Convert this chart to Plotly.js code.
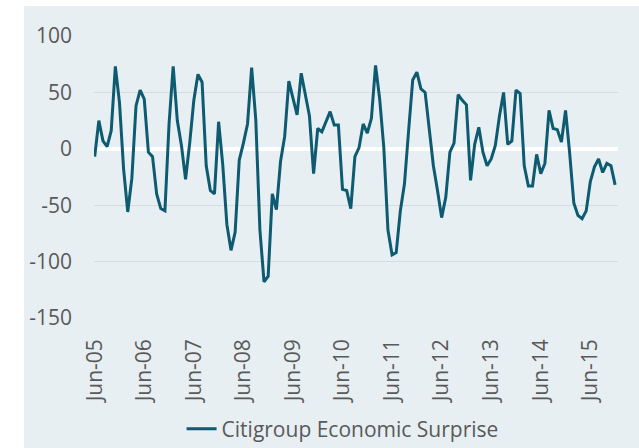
<!DOCTYPE html>
<html>
<head>
<meta charset="utf-8">
<script src="https://cdn.plot.ly/plotly-3.0.1.min.js"></script>
<style>
  html, body { margin: 0; padding: 0; background: #ffffff; width: 639px; height: 448px; overflow: hidden; }
  #chart { position: absolute; left: 24px; top: 6px; width: 615px; height: 442px; }
</style>
</head>
<body>
<div id="chart"></div>
<script>
// Monthly categories: Jun-05 .. Dec-15
const monthNames = ["Jan","Feb","Mar","Apr","May","Jun","Jul","Aug","Sep","Oct","Nov","Dec"];
const startYear = 2005, startMonth = 5, monthCount = 127;
const categories = [];
for (let k = 0; k < monthCount; k++) {
  const m = (startMonth + k) % 12;
  const y = startYear + Math.floor((startMonth + k) / 12);
  categories.push(monthNames[m] + "-" + String(y % 100).padStart(2, "0"));
}
const tickLabels = ["Jun-05","Jun-06","Jun-07","Jun-08","Jun-09","Jun-10","Jun-11","Jun-12","Jun-13","Jun-14","Jun-15"];
const yTickValues = [-150, -100, -50, 0, 50, 100];
const yTickLabels = ["-150", "-100", "-50", "0", "50", "100"];

const seriesName = "Citigroup Economic Surprise";
const surprise = [
  -7, 25, 7, 2, 16, 73, 41, -18, -56, -26, 38, 52,
  44, -3, -7, -40, -53, -55, 22, 73, 25, 3, -27, 5,
  43, 66, 59, -15, -37, -40, 24, -14, -67, -90, -74, -10,
  5, 22, 72, 26, -72, -118, -113, -40, -54, -11, 11, 60,
  45, 30, 67, 49, 29, -22, 18, 15, 24, 33, 21, 21,
  -36, -37, -53, -7, 1, 22, 14, 27, 74, 44, 1, -72,
  -94, -92, -55, -31, 16, 61, 68, 53, 50, 16, -15, -37,
  -61, -43, -3, 5, 48, 43, 39, -28, 4, 19, -3, -15,
  -9, 3, 29, 50, 4, 7, 52, 49, -15, -33, -33, -5,
  -22, -13, 34, 18, 17, 6, 34, -4, -48, -59, -62, -55,
  -29, -16, -9, -21, -13, -15, -32
];

const bg = "#e7eff2";
const textColor = "#595959";
const fontFamily = "'Open Sans', 'Noto Sans', sans-serif";

const trace = {
  x: categories,
  y: surprise,
  type: "scatter",
  mode: "lines",
  name: seriesName,
  line: { color: "#0d5a71", width: 3 }
};

const layout = {
  width: 615,
  height: 442,
  margin: { l: 70, r: 21, t: 30, b: 130, autoexpand: false },
  paper_bgcolor: bg,
  plot_bgcolor: bg,
  font: { family: fontFamily, size: 21, color: textColor },
  showlegend: true,
  legend: {
    orientation: "h",
    xref: "container", yref: "container",
    x: 0.518, xanchor: "center",
    y: 0.043, yanchor: "middle",
    bgcolor: "rgba(0,0,0,0)",
    font: { family: fontFamily, size: 21, color: textColor }
  },
  xaxis: {
    type: "category",
    range: [-0.17, 126.7],
    automargin: false,
    showgrid: false,
    zeroline: false,
    showline: false,
    ticks: "",
    tickmode: "array",
    tickvals: tickLabels,
    ticktext: tickLabels,
    tickangle: -90,
    ticklabelstandoff: 16,
    tickfont: { family: fontFamily, size: 21, color: textColor }
  },
  yaxis: {
    range: [-150, 100],
    automargin: false,
    tickmode: "array",
    tickvals: yTickValues,
    ticktext: yTickLabels,
    showgrid: true,
    gridcolor: "#d6dde0",
    gridwidth: 1.3,
    zeroline: true,
    zerolinecolor: "#ffffff",
    zerolinewidth: 4.5,
    showline: false,
    ticks: "",
    ticklabelstandoff: 21,
    tickfont: { family: fontFamily, size: 21, color: textColor }
  }
};

Plotly.newPlot("chart", [trace], layout, { displayModeBar: false, staticPlot: true });
</script>
</body>
</html>
